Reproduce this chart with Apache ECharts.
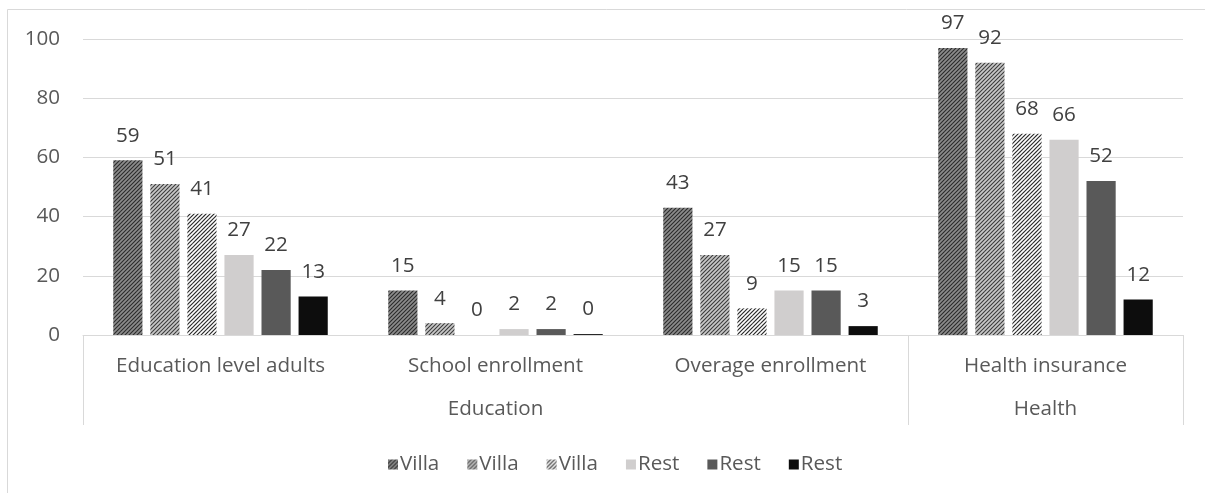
<!DOCTYPE html>
<html>
<head>
<meta charset="utf-8">
<script src="https://cdn.jsdelivr.net/npm/echarts@6/dist/echarts.min.js"></script>
<style>
html,body{margin:0;padding:0;background:#fff;}
#chart{width:1205px;height:493px;}
</style>
</head>
<body>
<div id="chart"></div>
<script>
// ---- data ----
const categories = ['Education level adults', 'School enrollment', 'Overage enrollment', 'Health insurance'];
const groups = ['Education', 'Health'];
const groupSpans = [3, 1];
const seriesNames = ['Villa', 'Villa', 'Villa', 'Rest', 'Rest', 'Rest'];
const villa1 = [59, 15, 43, 97];
const villa2 = [51, 4, 27, 92];
const villa3 = [41, 0, 9, 68];
const rest1 = [27, 2, 15, 66];
const rest2 = [22, 2, 15, 52];
const rest3 = [13, 0.3, 3, 12];
const yTicks = [0, 20, 40, 60, 80, 100];

// ---- styling helpers ----
function pattern(bg, stripe, lw) {
  const c = document.createElement('canvas');
  c.width = 8; c.height = 8;
  const g = c.getContext('2d');
  g.fillStyle = bg; g.fillRect(0, 0, 8, 8);
  g.strokeStyle = stripe; g.lineWidth = lw;
  // diagonal "/" lines: x + y = const, spaced 4px
  for (let cc = -4; cc <= 20; cc += 4) {
    g.beginPath(); g.moveTo(cc - 10, 10); g.lineTo(cc + 10, -10);
    g.stroke();
  }
  return { image: c, repeat: 'repeat' };
}
const colors = [
  pattern('#8c8c8c', '#2a2a2a', 1.1),
  pattern('#c8c8c8', '#3a3a3a', 1.1),
  pattern('#ffffff', '#2a2a2a', 1.2),
  '#d0cece',
  '#595959',
  '#0d0d0d'
];
const dataSets = [villa1, villa2, villa3, rest1, rest2, rest3];

// group positions on a 0..N value scale
const groupBounds = [0];
groupSpans.forEach(s => groupBounds.push(groupBounds[groupBounds.length - 1] + s));
const groupCenters = groups.map((g, i) => (groupBounds[i] + groupBounds[i + 1]) / 2);

const font = '"Open Sans", "Noto Sans", sans-serif';
const fs = 20.6;
const chart = echarts.init(document.getElementById('chart'), null, { renderer: 'canvas' });
chart.setOption({
  animation: false,
  backgroundColor: '#fff',
  graphic: [{
    type: 'rect', shape: { x: 7.5, y: 9.5, width: 1210, height: 500 },
    style: { fill: 'none', stroke: '#d9d9d9', lineWidth: 1 }, silent: true, z: -1
  }],
  grid: { left: 83, right: 22, top: 39, bottom: 158 },
  legend: {
    left: 383, top: 449,
    itemWidth: 10, itemHeight: 10, itemGap: 28, icon: 'rect',
    textStyle: { fontFamily: font, fontSize: fs, color: '#595959', padding: [0, 0, 0, -3] },
    data: seriesNames.map((n, i) => 's' + i),
    formatter: name => seriesNames[+name.slice(1)]
  },
  xAxis: [{
    type: 'category', data: categories,
    axisLine: { lineStyle: { color: '#d9d9d9' } },
    axisTick: { show: false },
    axisLabel: { fontFamily: font, fontSize: fs, color: '#595959', margin: 21 }
  }, {
    type: 'value', min: 0, max: groupBounds[groupBounds.length - 1],
    position: 'bottom',
    axisLine: { show: false },
    splitLine: { show: false },
    axisTick: { show: true, customValues: groupBounds, length: 90, lineStyle: { color: '#d9d9d9' } },
    axisLabel: {
      customValues: groupCenters, fontFamily: font, fontSize: fs, color: '#595959', margin: 64,
      formatter: v => { const i = groupCenters.indexOf(v); return i >= 0 ? groups[i] : ''; }
    }
  }],
  yAxis: {
    type: 'value', min: yTicks[0], max: yTicks[yTicks.length - 1], interval: 20,
    axisLine: { show: false }, axisTick: { show: false },
    splitLine: { lineStyle: { color: '#d9d9d9' } },
    axisLabel: { fontFamily: font, fontSize: fs, color: '#595959', margin: 23 }
  },
  series: dataSets.map((d, i) => ({
    name: 's' + i,
    type: 'bar',
    xAxisIndex: 0,
    data: d,
    barGap: '27%',
    barCategoryGap: '22%',
    itemStyle: { color: colors[i] },
    label: {
      show: true, position: 'top', distance: 14,
      fontFamily: font, fontSize: fs, color: '#404040',
      formatter: p => Math.round(p.value).toString()
    }
  }))
});
</script>
</body>
</html>
